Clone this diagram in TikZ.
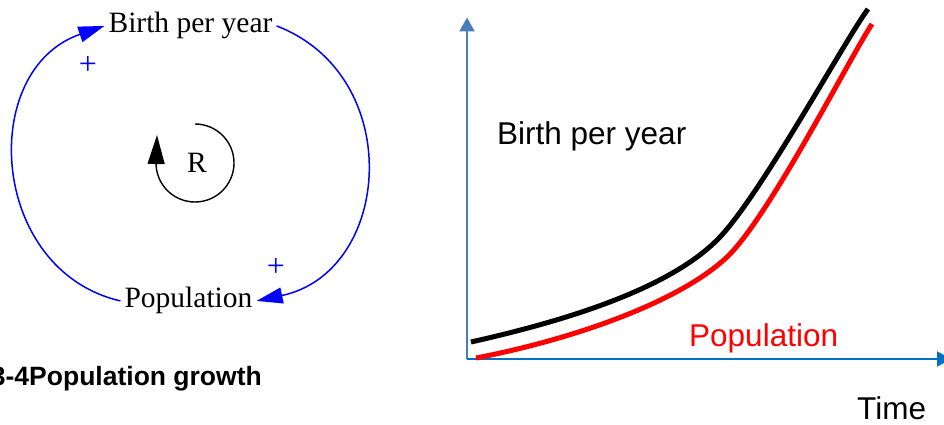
\documentclass[tikz,border=0pt]{standalone}
\usepackage{fontspec}
\setmainfont{Liberation Serif}
\newfontfamily\arial{Liberation Sans}
\usetikzlibrary{arrows.meta}
\definecolor{fbblue}{RGB}{0,0,255}
\definecolor{yaxis}{HTML}{4A7EBB}
\definecolor{xaxis}{HTML}{0070C0}
\definecolor{popred}{HTML}{FF0000}
\tikzset{
  var/.style={inner sep=0pt, inner xsep=4pt, anchor=base, font=\fontsize{29.5}{30}\selectfont},
  fb/.style={draw=fbblue, line width=1.5pt, -{Triangle[length=26pt,width=16pt]}},
  pol/.style={text=fbblue, inner sep=0pt, font=\fontsize{32}{32}\selectfont},
  loopline/.style={draw=black, line width=1.4pt, -{Triangle[length=29pt,width=17pt]}},
  axisline/.style={line width=2pt, -{Triangle[length=14pt,width=15pt]}},
  curve/.style={line width=5pt, line cap=butt},
  lbl/.style={inner sep=0pt, anchor=base west, font=\arial\fontsize{31.5}{32}\selectfont},
}
\begin{document}
\begin{tikzpicture}[x=1pt,y=1pt]
\useasboundingbox (0,0) rectangle (944,425);
% causal loop
\node[var] (birth) at (190.5,392) {Birth per year};
\node[var] (pop) at (188.5,117) {Population};
\draw[fb] (pop.west) to[out=167, in=199, looseness=1.25] (birth.west);
\draw[fb] (birth.east) to[out=-21, in=12, looseness=1.29] (pop.east);
\node[pol] (plus1) at (88,360) {+};
\node[pol] (plus2) at (276,158) {+};
\node[var, inner xsep=0pt] (R) at (197,252) {R};
\coordinate (Rtop) at (195,301);
\coordinate (Rtip) at (157,290);
\draw[loopline] (Rtop) arc[start angle=90, end angle=-176, radius=39] -- (Rtip);
\node[inner sep=0pt, anchor=base east, font=\arial\bfseries\fontsize{26.5}{27}\selectfont] (cap) at (262,39) {3-4Population growth};
% graph
\coordinate (O) at (467,66);
\coordinate (ytip) at (467,407.5);
\coordinate (xtip) at (951,66);
\draw[axisline, draw=yaxis] (O) -- (ytip);
\draw[axisline, draw=xaxis] (O) -- (xtip);
\coordinate (b0) at (471,83);
\coordinate (b1) at (720,188);
\coordinate (b2) at (868,416);
\coordinate (r0) at (476,67);
\coordinate (r1) at (726,167);
\coordinate (r2) at (872,401);
\draw[curve, black] (b0) .. controls (560,103) and (670,135) .. (b1)
  .. controls (762,232.5) and (845,385) .. (b2);
\draw[curve, popred] (r0) .. controls (565,84) and (675,120) .. (r1)
  .. controls (768,205.7) and (849,366) .. (r2);
\node[lbl] (lb) at (497,280) {Birth per year};
\node[lbl, text=popred] (lp) at (689,78) {Population};
\node[lbl] (lt) at (857,5) {Time};
\end{tikzpicture}
\end{document}
